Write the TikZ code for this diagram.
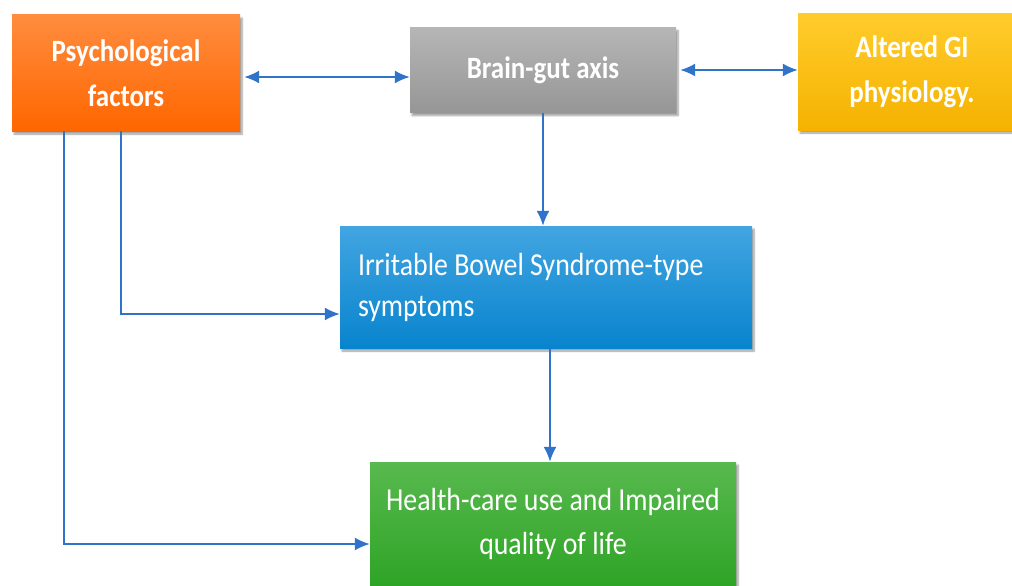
\documentclass[tikz,border=0pt]{standalone}
\usepackage{fontspec}
\setmainfont[FakeStretch=0.87]{Carlito}
\usetikzlibrary{arrows.meta,shadows.blur}

\definecolor{arrowblue}{HTML}{2F74C8}

\tikzset{
  box/.style={rectangle, inner sep=0pt, text=white, blur shadow={shadow xshift=2pt, shadow yshift=-3pt, shadow blur steps=6}},
  flow/.style={draw=arrowblue, line width=1.8pt, -{Latex[length=15pt,width=13pt]}},
  twoway/.style={draw=arrowblue, line width=1.8pt, {Latex[length=15pt,width=13pt]}-{Latex[length=15pt,width=13pt]}}
}

\begin{document}
\begin{tikzpicture}[x=1pt, y=-1pt]
    \useasboundingbox (0,0) rectangle (1012,586);

    \node [box, top color={rgb,255:red,255;green,140;blue,62}, bottom color={rgb,255:red,255;green,102;blue,0},
           minimum width=228pt, minimum height=116pt, align=center,
           font=\fontsize{31}{45}\selectfont\bfseries] (psych) at (126,73) {Psychological\\factors};

    \node [box, top color={rgb,255:red,182;green,182;blue,182}, bottom color={rgb,255:red,150;green,150;blue,150},
           minimum width=266pt, minimum height=85pt,
           font=\fontsize{31}{45}\selectfont\bfseries] (brain) at (543,70) {Brain-gut axis};

    \node [box, top color={rgb,255:red,255;green,204;blue,44}, bottom color={rgb,255:red,245;green,178;blue,0},
           minimum width=228pt, minimum height=116pt, align=center,
           font=\fontsize{31}{45}\selectfont\bfseries] (altered) at (912,72) {Altered GI\\physiology.};

    \node [box, top color={rgb,255:red,66;green,165;blue,225}, bottom color={rgb,255:red,8;green,132;blue,206},
           minimum width=412pt, minimum height=122pt, align=flush left, text width=376pt,
           font=\fontsize{32}{41}\selectfont] (ibs) at (546,287) {Irritable Bowel Syndrome-type\\symptoms};

    \node [box, top color={rgb,255:red,88;green,185;blue,78}, bottom color={rgb,255:red,46;green,164;blue,38},
           minimum width=366pt, minimum height=124pt, align=center,
           font=\fontsize{32}{44}\selectfont] (health) at (553,524) {Health-care use and Impaired\\quality of life};

    \draw [twoway] ([xshift=4pt, yshift=-4pt]psych.east) -- ([yshift=-7pt]brain.west);
    \draw [twoway] ([xshift=4pt]brain.east) -- (altered.west |- brain.east);
    \draw [flow] (brain.south) -- (brain.south |- ibs.north);
    \draw [flow] ([xshift=4pt]ibs.south) -- ([xshift=4pt]ibs.south |- health.north);
    \draw [flow] ([xshift=-5pt]psych.south) |- ([yshift=-27pt]ibs.west);
    \draw [flow] ([xshift=-62pt]psych.south) |- ([yshift=-20pt]health.west);
\end{tikzpicture}
\end{document}
